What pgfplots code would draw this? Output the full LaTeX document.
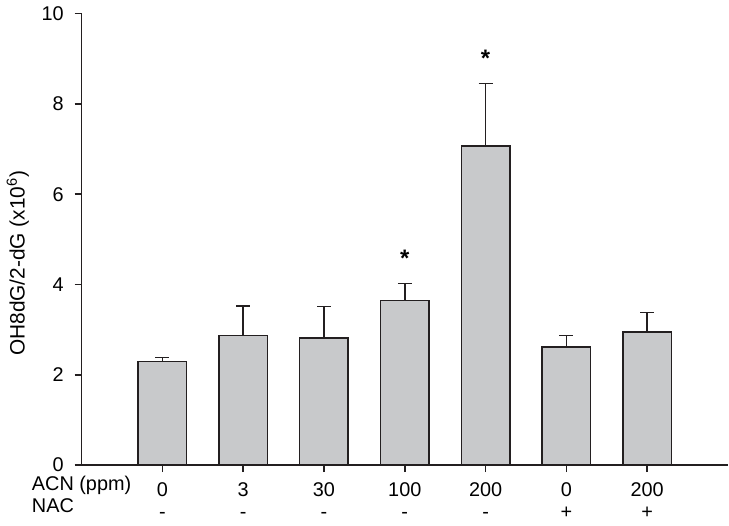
\documentclass[border=0pt]{standalone}
\usepackage{fontspec}
\setmainfont{Liberation Sans}
\usepackage{pgfplots}
\pgfplotsset{compat=1.18}
\definecolor{barfill}{HTML}{C8C9CB}
\definecolor{ink}{HTML}{231F20}

\begin{document}
\begin{tikzpicture}
\begin{axis}[
    scale only axis,
    width=325.5pt, height=227.35pt,
    xmin=0, xmax=8, ymin=0, ymax=10,
    axis x line=bottom, axis y line=left,
    axis line style={-, draw=ink, line width=0.8pt},
    tick style={draw=ink, line width=0.8pt},
    tick align=outside, major tick length=3.5pt,
    ytick={0,2,...,10},
    y tick label style={xshift=-2pt},
    xtick={1,...,7},
    xticklabels={{0\\-},{3\\-},{30\\-},{100\\-},{200\\-},{0\\+},{200\\+}},
    x tick label style={align=center, font=\fontsize{10}{11}\selectfont, yshift=-2pt},
    extra x ticks={0},
    extra x tick labels={{ACN (ppm)\\NAC}},
    extra x tick style={major tick length=0pt, x tick label style={align=left}},
    font=\fontsize{10}{11}\selectfont,
    /pgf/number format/assume math mode=true,
    ylabel={OH8dG/2-dG (x10\textsuperscript{6})},
    ylabel style={at={(axis description cs:-0.088,0.4475)}, anchor=base,
        font=\fontsize{10.5}{12}\selectfont},
]
% means with upper SD only
\addplot[ybar, bar width=0.6, fill=barfill, draw=ink, line width=0.75pt,
    error bars/.cd, y dir=plus, y explicit,
    error bar style={draw=ink, line width=0.75pt},
    error mark options={draw=ink, line width=0.75pt, mark size=3.5pt, rotate=90}]
coordinates {
    (1,2.29) +- (0,0.09)
    (2,2.87) +- (0,0.65)
    (3,2.82) +- (0,0.69)
    (4,3.65) +- (0,0.37)
    (5,7.07) +- (0,1.38)
    (6,2.62) +- (0,0.25)
    (7,2.95) +- (0,0.43)
};
% significance stars above the error caps
\addplot[draw=none, mark=none, nodes near coords={*},
    nodes near coords style={anchor=south, yshift=5pt, font=\bfseries\fontsize{12}{12}\selectfont}]
coordinates {(4,4.02) (5,8.45)};
\end{axis}
\path ([shift={(-38.5pt,-28.5pt)}]current axis.south west) rectangle ++(364.5pt,262pt);
\end{tikzpicture}
\end{document}
